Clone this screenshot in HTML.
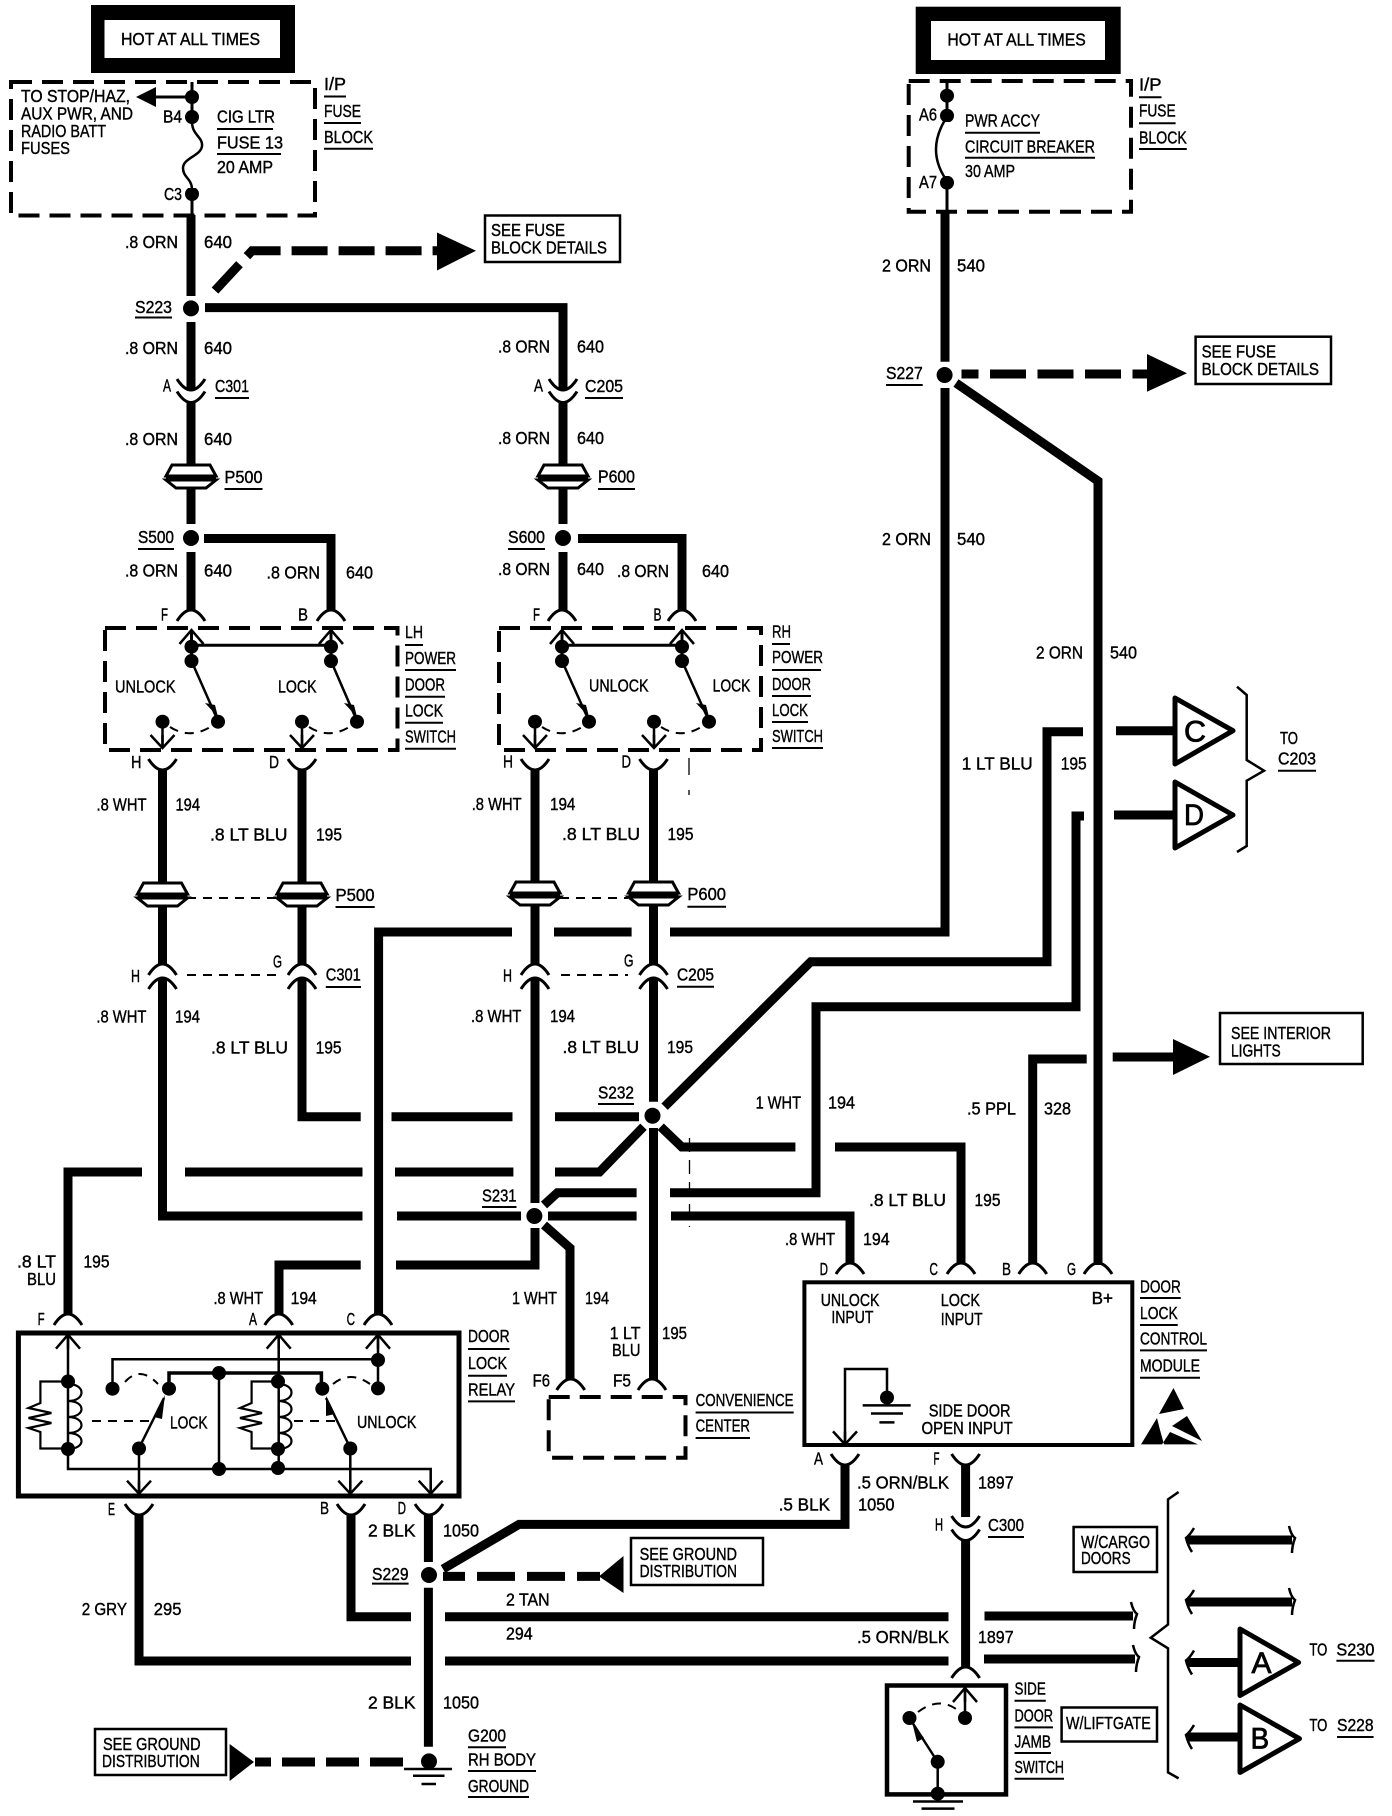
<!DOCTYPE html>
<html><head><meta charset="utf-8"><title>Door lock wiring diagram</title>
<style>
html,body{margin:0;padding:0;background:#fff}
svg{display:block}
text{font-family:"Liberation Sans",sans-serif;font-size:17.5px;fill:#000;stroke:#000;stroke-width:.4}
.w{fill:none;stroke:#000;stroke-width:9}
.t{fill:none;stroke:#000;stroke-width:3}
.u{fill:none;stroke:#000;stroke-width:2}
.d{fill:none;stroke:#000;stroke-width:9}
.db{fill:none;stroke:#000;stroke-width:4;stroke-dasharray:21 10}
.n{fill:none;stroke:#000;stroke-width:2;stroke-dasharray:9 7}
.big{font-size:30px;stroke-width:.8}
</style></head><body>
<svg xmlns="http://www.w3.org/2000/svg" width="1392" height="1816" viewBox="0 0 1392 1816">
<defs>
<path id="cup" d="M-14 0Q0 22 14 0" fill="none" stroke="#000" stroke-width="3"/>
<path id="cap" d="M-14 0Q0 -22 14 0" fill="none" stroke="#000" stroke-width="3"/>
<circle id="dot" r="7" fill="#000"/>
<circle id="sp" r="8" fill="#000"/>
<g id="pz" fill="#fff" stroke="#000" stroke-width="3"><path d="M-19 0H19L25 11H-25Z"/><path d="M-25 15H25L15 23H-15Z"/><path d="M-25 13H25" stroke-width="3"/></g>
<path id="up" d="M-12 14L0 0L12 14M0 0V14" fill="none" stroke="#000" stroke-width="2.5"/>
<path id="dn" d="M-12 -13L0 0L12 -13M0 0V-13" fill="none" stroke="#000" stroke-width="2.5"/>
<path id="hl" d="M3 -12Q-1 -5 -5 -2Q-3 6 1 12" fill="none" stroke="#000" stroke-width="2.5"/>
<path id="hr" d="M-2 -14Q0 -5 4 -2Q1 6 1 13" fill="none" stroke="#000" stroke-width="2.5"/>
</defs>

<!-- hot boxes -->
<rect x="91" y="5" width="204" height="68" fill="#000"/><rect x="104.5" y="20" width="175.5" height="38" fill="#fff"/>
<rect x="915.7" y="6.7" width="205" height="67.3" fill="#000"/><rect x="931" y="21" width="174" height="39" fill="#fff"/>

<!-- dashed boxes -->
<rect class="db" x="11" y="82" width="304" height="133.5"/>
<rect class="db" x="908.7" y="81" width="222.3" height="130.7"/>
<rect class="db" x="105" y="628" width="292.5" height="122"/>
<rect class="db" x="499" y="628" width="262" height="122"/>
<rect class="db" x="548.7" y="1397" width="136.8" height="60.8"/>

<!-- main wires -->
<path class="w" d="M191 215V296M191 322V390M191 403V465M191 488V524M191 552V610M204 538.5H331V610M205 307.6H563V390M563 403V465M563 488V524M563 552V610M578 538.5H682V610
M162.5 769V883M162.5 906V965M162.5 978V1216H362.5M397 1216H521
M302 769V883M302 906V965M302 978V1116.7H360.7M391.5 1116.7H512.5M555 1116.7H639
M535 769V883M535 906V965M535 978V1203M535 1228V1265H396M360.7 1265H279V1315
M653.5 769V883M653.5 906V965M653.5 978V1101.7M653.5 1128V1380
M945 213V361.7M945 388V932H670M631.6 932H554M512 932H378.6V1314
M68 1314V1172H142M185 1172H362.5M395 1172H513.4M555 1172H599.5L643.5 1126.7
M664.6 1106.7L810.8 961.7H1047V731.7H1083
M660.7 1126.7L681.8 1147H795.4M835 1147H961V1264
M544 1205L557.4 1192.7H636.6M670 1192.7H816V1006.7H1076V816H1084
M548 1216H636.6M671 1216H850V1264
M544 1225L570 1248V1380
M956 383L1098 481V1265
M1032.7 1264V1059H1086.7
M1116 730.7H1175M1114 815H1175M1112.7 1057H1173
M845 1465V1524.4H519L443 1569
M965.6 1465V1517M965.6 1541V1667
M428.4 1515V1562M428.4 1587.7V1746.7
M351 1515V1616.8H411M445 1616.8H948.5M984.5 1616H1133
M139 1515V1661H411M445 1661H948.5M984 1659H1135
M1187 1540H1292M1187 1602H1292M1187 1662.5H1240M1187 1737H1240"/>

<!-- dashed thick connectors -->
<path class="d" stroke-dasharray="36 11" d="M215 290.6L252 250.7H437"/>
<path class="d" stroke-dasharray="36 11.5" stroke-dashoffset="19" d="M961.5 374H1147"/>
<path class="d" stroke-dasharray="38 12" stroke-dashoffset="16" d="M443 1576.4H600"/>
<path class="d" stroke-dasharray="33 11" stroke-dashoffset="17" d="M255 1762H403"/>
<path d="M437 232.5L476 250.7L437 270.5ZM1147 354L1187 373.3L1147 391.7ZM623.5 1556V1593L599 1576.4ZM229.6 1744V1781L254 1762ZM1173 1039L1210 1056.7L1173 1075Z"/>

<!-- splice dots -->
<use href="#sp" x="191" y="308.4"/><use href="#sp" x="191" y="538"/><use href="#sp" x="563" y="538"/><use href="#sp" x="944.6" y="375"/><use href="#sp" x="652.5" y="1115.7"/><use href="#sp" x="534.4" y="1216"/><use href="#sp" x="429" y="1575"/><use href="#sp" x="429" y="1761.4"/>

<!-- connectors -->
<use href="#cup" x="191" y="379"/><use href="#cup" x="191" y="391.5"/><use href="#cup" x="563" y="379"/><use href="#cup" x="563" y="391.5"/>
<use href="#cap" x="191" y="621"/><use href="#cap" x="331" y="621"/><use href="#cap" x="562" y="621"/><use href="#cap" x="682" y="621"/>
<use href="#cup" x="162.5" y="759"/><use href="#cup" x="302" y="759"/><use href="#cup" x="535" y="759"/><use href="#cup" x="653.5" y="759"/>
<use href="#cap" x="162.5" y="975"/><use href="#cap" x="162.5" y="989"/><use href="#cap" x="302" y="975"/><use href="#cap" x="302" y="989"/><use href="#cap" x="535" y="975"/><use href="#cap" x="535" y="989"/><use href="#cap" x="653.5" y="975"/><use href="#cap" x="653.5" y="989"/>
<use href="#cap" x="68" y="1325"/><use href="#cap" x="278.7" y="1325"/><use href="#cap" x="378" y="1325"/>
<use href="#cap" x="570.7" y="1390"/><use href="#cap" x="652" y="1390"/>
<use href="#cap" x="850" y="1274"/><use href="#cap" x="961" y="1274"/><use href="#cap" x="1032.7" y="1274"/><use href="#cap" x="1098" y="1274"/>
<use href="#cup" x="139" y="1504"/><use href="#cup" x="351" y="1504"/><use href="#cup" x="429" y="1504"/>
<use href="#cup" x="845" y="1454"/><use href="#cup" x="965.6" y="1454"/><use href="#cup" x="965.6" y="1516"/><use href="#cup" x="965.6" y="1529.5"/><use href="#cap" x="965.6" y="1678"/>
<use href="#pz" x="191" y="465"/><use href="#pz" x="563" y="465"/><use href="#pz" x="162.5" y="883"/><use href="#pz" x="302" y="883"/><use href="#pz" x="535" y="882"/><use href="#pz" x="653.5" y="882"/>
<path class="n" d="M187 898H277M560 898H628M187 975H281M561 975H628"/>
<path fill="none" stroke="#000" stroke-width="1.3" d="M689 758V775M689 790V795"/><path fill="none" stroke="#000" stroke-width="1.3" stroke-dasharray="14 8" d="M689.5 1138V1227"/>

<!-- fuse block left -->
<path class="t" d="M192 82V215M192 97H150"/>
<path d="M136 97L156 87V107Z"/>
<use href="#dot" x="192" y="97"/><use href="#dot" x="192" y="117"/><use href="#dot" x="192" y="194"/>
<path fill="#fff" d="M186 124h12v64h-12z"/>
<path fill="none" stroke="#000" stroke-width="2.5" d="M192 122C192 135 203 137 202 146C201 156 183 158 183 168C183 178 192 178 192 190"/>
<!-- fuse block right -->
<path class="t" d="M947 81V212"/>
<use href="#dot" x="947" y="95.7"/><use href="#dot" x="947" y="115.7"/><use href="#dot" x="947" y="182.7"/>
<path fill="#fff" d="M941 122h12v54h-12z"/>
<path fill="none" stroke="#000" stroke-width="2.5" d="M945 120Q927 150 945 178"/>

<!-- switches -->
<g id="sw1">
<path class="t" d="M191.5 632V661M331 632V661M191.5 645.3H331"/>
<use href="#up" x="191.5" y="630"/><use href="#up" x="331" y="630"/>
<use href="#dot" x="191.5" y="646.7"/><use href="#dot" x="191.5" y="661"/><use href="#dot" x="331" y="646.7"/><use href="#dot" x="331" y="661"/>
<path fill="none" stroke="#000" stroke-width="2.5" d="M191.5 661L218 721M331 661L357 721M162.5 722V748M302 722V748"/>
<path d="M205 703L215 705L218 717ZM344 703L354 705L357 717Z"/>
<use href="#dot" x="218" y="721.7"/><use href="#dot" x="357" y="721.7"/><use href="#dot" x="162.5" y="721.7"/><use href="#dot" x="302" y="721.7"/>
<use href="#dn" x="162.5" y="748"/><use href="#dn" x="302" y="748"/>
<path class="n" d="M170 727Q190 740 212 726M309 727Q329 740 351 726"/>
</g>
<g>
<path class="t" d="M562 632V661M682 632V661M562 645.3H682"/>
<use href="#up" x="562" y="630"/><use href="#up" x="682" y="630"/>
<use href="#dot" x="562" y="646.7"/><use href="#dot" x="562" y="661"/><use href="#dot" x="682" y="646.7"/><use href="#dot" x="682" y="661"/>
<path fill="none" stroke="#000" stroke-width="2.5" d="M562 661L589 721M682 661L709 721M535 722V748M654 722V748"/>
<path d="M576 703L586 705L589 717ZM696 703L706 705L709 717Z"/>
<use href="#dot" x="589" y="721.7"/><use href="#dot" x="709" y="721.7"/><use href="#dot" x="535" y="721.7"/><use href="#dot" x="654" y="721.7"/>
<use href="#dn" x="535" y="748"/><use href="#dn" x="654" y="748"/>
<path class="n" d="M542 727Q562 740 584 726M661 727Q681 740 703 726"/>
</g>

<!-- relay -->
<rect x="18.4" y="1333" width="440.6" height="163" fill="none" stroke="#000" stroke-width="5"/>
<path fill="none" stroke="#000" stroke-width="2.5" d="M68 1336V1469H430.7V1492M278.7 1336V1469M378 1336V1388M112.5 1388V1359.3H378M219 1373V1469M139 1448V1492M350.3 1448V1492M139 1448L164 1398M350.3 1448L326 1398"/>
<path fill="none" stroke="#000" stroke-width="3.5" d="M169 1388V1373H321.4V1388"/>
<use href="#up" x="68" y="1334.7"/><use href="#up" x="278.7" y="1334.7"/><use href="#up" x="378" y="1334.7"/>
<use href="#dn" x="139" y="1493.7"/><use href="#dn" x="350.3" y="1493.7"/><use href="#dn" x="430.7" y="1493.7"/>
<use href="#dot" x="68" y="1381.5"/><use href="#dot" x="68" y="1449"/><use href="#dot" x="278" y="1381.5"/><use href="#dot" x="278" y="1449"/><use href="#dot" x="278" y="1468"/><use href="#dot" x="219" y="1373"/><use href="#dot" x="219" y="1469"/><use href="#dot" x="378" y="1360"/><use href="#dot" x="378" y="1388.4"/><use href="#dot" x="112.5" y="1388.7"/><use href="#dot" x="169" y="1388.7"/><use href="#dot" x="322.3" y="1388.7"/><use href="#dot" x="139" y="1448.5"/><use href="#dot" x="350.3" y="1448.5"/>
<path d="M165 1395L154 1417L162 1419ZM326 1396L326 1416L335 1414Z"/>
<path fill="none" stroke="#000" stroke-width="2.2" d="M68 1381.5H40.4V1403L28.5 1408L51.4 1413L28.5 1418L51.4 1423L28.5 1428L40.4 1432V1448.5H68M68 1384C86 1384 86 1401 68 1401C86 1401 86 1417 68 1417C86 1417 86 1433 68 1433C86 1433 86 1449 68 1449"/>
<path fill="none" stroke="#000" stroke-width="2.2" d="M278 1381.5H251.6V1403L240 1408L262 1413L240 1418L262 1423L240 1428L251.6 1432V1448.5H278M278 1384C296 1384 296 1401 278 1401C296 1401 296 1417 278 1417C296 1417 296 1433 278 1433C296 1433 296 1449 278 1449"/>
<path class="n" d="M92 1421H151.5M294 1421H337.5M125 1382Q140 1365 158 1384M333 1384Q350 1370 370 1384"/>

<!-- module -->
<rect x="804.4" y="1282.3" width="327.9" height="162.7" fill="none" stroke="#000" stroke-width="4"/>
<path fill="none" stroke="#000" stroke-width="2.5" d="M845 1444V1369H887V1398"/><use href="#dn" x="845" y="1444.4"/><use href="#dot" x="887" y="1397.6"/>
<path fill="none" stroke="#000" stroke-width="2.5" d="M862.7 1405.4H910.7M871 1413.5H903M879.4 1422.4H894.5"/>
<path d="M1173.5 1388L1184 1409L1159 1414ZM1157 1418L1141 1444.4H1164L1160 1430ZM1187 1416L1202 1441L1172 1426ZM1170 1432L1198 1444.4H1162Z"/>

<!-- jamb switch -->
<rect x="887" y="1685.5" width="119" height="108.9" fill="none" stroke="#000" stroke-width="4.5"/>
<use href="#up" x="965" y="1688"/>
<path fill="none" stroke="#000" stroke-width="2.5" d="M965 1690V1718M937.7 1762V1794M937.7 1762L912 1722"/>
<path d="M912 1722L924 1738L917 1742Z"/>
<use href="#dot" x="965" y="1718"/><use href="#dot" x="909.5" y="1718"/><use href="#dot" x="937.7" y="1761.8"/><use href="#dot" x="937.7" y="1793.7"/>
<path class="n" d="M918 1712Q940 1695 960 1712"/>
<path fill="none" stroke="#000" stroke-width="2.5" d="M913 1801.5H963M921.5 1808.6H954.5M404 1769H452M413 1775.7H444.5M421.5 1784H436"/>

<!-- triangles -->
<g fill="#fff" stroke="#000" stroke-width="5" stroke-linejoin="round">
<path d="M1175 698L1233 730.7L1175 764Z"/><path d="M1175 782L1233 815L1175 848Z"/><path d="M1240 1629L1298.6 1662.5L1240 1695.5Z"/><path d="M1240 1705L1299.5 1738.7L1240 1772.4Z"/>
</g>
<!-- braces and hooks -->
<path fill="none" stroke="#000" stroke-width="2.5" d="M1237 686.7L1246.7 695V760L1264 770.7L1246.7 780.7V846L1237 852"/>
<path fill="none" stroke="#000" stroke-width="2.5" d="M1178.6 1492L1168 1499.4V1624.5L1150.8 1637.7L1168 1648.3V1772.4L1178.6 1778.4"/>
<use href="#hl" x="1191" y="1540"/><use href="#hr" x="1291" y="1540"/><use href="#hl" x="1191" y="1602"/><use href="#hr" x="1291" y="1602"/><use href="#hl" x="1191" y="1662.5"/><use href="#hl" x="1191" y="1737"/><use href="#hr" x="1133" y="1616"/><use href="#hr" x="1135" y="1659"/>

<!-- label boxes -->
<g fill="none" stroke="#000" stroke-width="2.5">
<rect x="485" y="215.5" width="135" height="46.5"/><rect x="1195.6" y="336.7" width="135.4" height="47.3"/><rect x="1220" y="1013" width="142.7" height="51"/><rect x="631" y="1538" width="132" height="47"/><rect x="95" y="1729" width="131" height="46"/><rect x="1073.6" y="1527" width="83.4" height="45"/><rect x="1061.6" y="1707.5" width="95.4" height="34"/>
</g>

<!-- underlines -->
<path class="u" d="M217 129H273M217 154H281M324 96.5H346M324 123H361M324 148.7H373M135 317.5H172M215 398H249M585 398H623M224.5 489H262.5M598 489H635M138 549H174M508 549H545
M405 645H423M405 670H456M405 696.7H445M405 722.7H443M405 748.7H456M772 644H790M772 670H821M772 696H811M772 722H808M772 748H823
M335.5 907H374.7M687.4 906.7H726M325.8 987H361M677 986.7H714M598 1104H634M482 1207H516.5
M965 132.7H1040M965 157.7H1095M1139 97.3H1161.5M1139 123.3H1175.6M1139 149H1186.8M886 385H922.7M1278 770.7H1316
M468 1349H509.6M468 1375.7H507M468 1401.4H515M695.6 1412.5H793.7M695.6 1438H750M1140 1298H1180.8M1140 1325H1177.7M1140 1350.4H1207M1140 1377.7H1200
M988 1537H1024M372 1583.6H408.6M468 1747.3H506M468 1771H536M468 1797H529M1014.5 1700.8H1045.8M1014.5 1727.4H1053M1014.5 1753H1051M1014.5 1778.8H1064M1336.4 1660.7H1374.5M1337 1737H1373.6"/>

<!-- text -->
<text x="121" y="45" textLength="139" lengthAdjust="spacingAndGlyphs">HOT AT ALL TIMES</text>
<text x="947.4" y="45.7" textLength="138.4" lengthAdjust="spacingAndGlyphs">HOT AT ALL TIMES</text>
<text x="21" y="102" textLength="109" lengthAdjust="spacingAndGlyphs">TO STOP/HAZ,</text>
<text x="21" y="119.5" textLength="112" lengthAdjust="spacingAndGlyphs">AUX PWR, AND</text>
<text x="21" y="137" textLength="85" lengthAdjust="spacingAndGlyphs">RADIO BATT</text>
<text x="21" y="154" textLength="49" lengthAdjust="spacingAndGlyphs">FUSES</text>
<text x="163" y="122.5" textLength="19" lengthAdjust="spacingAndGlyphs">B4</text>
<text x="164" y="200" textLength="18" lengthAdjust="spacingAndGlyphs">C3</text>
<text x="217" y="122.5" textLength="58" lengthAdjust="spacingAndGlyphs">CIG LTR</text>
<text x="217" y="148.7" textLength="66" lengthAdjust="spacingAndGlyphs">FUSE 13</text>
<text x="217" y="173" textLength="56" lengthAdjust="spacingAndGlyphs">20 AMP</text>
<text x="324" y="90" textLength="22" lengthAdjust="spacingAndGlyphs">I/P</text>
<text x="324" y="117" textLength="37" lengthAdjust="spacingAndGlyphs">FUSE</text>
<text x="324" y="143" textLength="49" lengthAdjust="spacingAndGlyphs">BLOCK</text>
<text x="125" y="248" textLength="53" lengthAdjust="spacingAndGlyphs">.8 ORN</text><text x="204" y="248" textLength="28" lengthAdjust="spacingAndGlyphs">640</text>
<text x="491" y="236" textLength="74" lengthAdjust="spacingAndGlyphs">SEE FUSE</text>
<text x="491" y="253.5" textLength="116" lengthAdjust="spacingAndGlyphs">BLOCK DETAILS</text>
<text x="135" y="313" textLength="37" lengthAdjust="spacingAndGlyphs">S223</text>
<text x="125" y="354" textLength="53" lengthAdjust="spacingAndGlyphs">.8 ORN</text><text x="204" y="354" textLength="28" lengthAdjust="spacingAndGlyphs">640</text>
<text x="498" y="352.7" textLength="52" lengthAdjust="spacingAndGlyphs">.8 ORN</text><text x="577" y="352.7" textLength="27" lengthAdjust="spacingAndGlyphs">640</text>
<text x="163" y="391.5" textLength="8" lengthAdjust="spacingAndGlyphs">A</text><text x="215" y="392" textLength="34" lengthAdjust="spacingAndGlyphs">C301</text>
<text x="534" y="391.5" textLength="9" lengthAdjust="spacingAndGlyphs">A</text><text x="585" y="392" textLength="38" lengthAdjust="spacingAndGlyphs">C205</text>
<text x="125" y="445" textLength="53" lengthAdjust="spacingAndGlyphs">.8 ORN</text><text x="204" y="445" textLength="28" lengthAdjust="spacingAndGlyphs">640</text>
<text x="498" y="444" textLength="52" lengthAdjust="spacingAndGlyphs">.8 ORN</text><text x="577" y="444" textLength="27" lengthAdjust="spacingAndGlyphs">640</text>
<text x="224.5" y="483" textLength="38" lengthAdjust="spacingAndGlyphs">P500</text><text x="598" y="482.4" textLength="37" lengthAdjust="spacingAndGlyphs">P600</text>
<text x="138" y="543" textLength="36" lengthAdjust="spacingAndGlyphs">S500</text><text x="508" y="543" textLength="37" lengthAdjust="spacingAndGlyphs">S600</text>
<text x="125" y="576.5" textLength="53" lengthAdjust="spacingAndGlyphs">.8 ORN</text><text x="204" y="576.5" textLength="28" lengthAdjust="spacingAndGlyphs">640</text>
<text x="266.5" y="578.5" textLength="53.5" lengthAdjust="spacingAndGlyphs">.8 ORN</text><text x="346" y="578.5" textLength="27" lengthAdjust="spacingAndGlyphs">640</text>
<text x="498" y="575" textLength="52" lengthAdjust="spacingAndGlyphs">.8 ORN</text><text x="577" y="575" textLength="27" lengthAdjust="spacingAndGlyphs">640</text>
<text x="617" y="577" textLength="52" lengthAdjust="spacingAndGlyphs">.8 ORN</text><text x="702" y="577" textLength="27" lengthAdjust="spacingAndGlyphs">640</text>
<text x="161" y="620.7" textLength="7" lengthAdjust="spacingAndGlyphs">F</text><text x="298" y="620.7" textLength="10" lengthAdjust="spacingAndGlyphs">B</text>
<text x="533" y="620.7" textLength="7" lengthAdjust="spacingAndGlyphs">F</text><text x="653.5" y="620.7" textLength="8" lengthAdjust="spacingAndGlyphs">B</text>
<text x="115" y="692.7" textLength="60.5" lengthAdjust="spacingAndGlyphs">UNLOCK</text><text x="278" y="692.7" textLength="38.5" lengthAdjust="spacingAndGlyphs">LOCK</text>
<text x="589" y="691.7" textLength="59.6" lengthAdjust="spacingAndGlyphs">UNLOCK</text><text x="712.6" y="691.7" textLength="37.8" lengthAdjust="spacingAndGlyphs">LOCK</text>
<text x="405" y="638" textLength="18" lengthAdjust="spacingAndGlyphs">LH</text><text x="405" y="664" textLength="51" lengthAdjust="spacingAndGlyphs">POWER</text><text x="405" y="690.7" textLength="40" lengthAdjust="spacingAndGlyphs">DOOR</text><text x="405" y="716.7" textLength="38" lengthAdjust="spacingAndGlyphs">LOCK</text><text x="405" y="742.7" textLength="51" lengthAdjust="spacingAndGlyphs">SWITCH</text>
<text x="772" y="637.7" textLength="19" lengthAdjust="spacingAndGlyphs">RH</text><text x="772" y="663" textLength="51" lengthAdjust="spacingAndGlyphs">POWER</text><text x="772" y="690" textLength="39" lengthAdjust="spacingAndGlyphs">DOOR</text><text x="772" y="716" textLength="36" lengthAdjust="spacingAndGlyphs">LOCK</text><text x="772" y="742" textLength="51" lengthAdjust="spacingAndGlyphs">SWITCH</text>
<text x="131" y="768" textLength="10.5" lengthAdjust="spacingAndGlyphs">H</text><text x="269" y="768" textLength="10" lengthAdjust="spacingAndGlyphs">D</text><text x="503" y="767.7" textLength="10" lengthAdjust="spacingAndGlyphs">H</text><text x="621.5" y="767.7" textLength="9.5" lengthAdjust="spacingAndGlyphs">D</text>
<text x="96.5" y="810.7" textLength="50" lengthAdjust="spacingAndGlyphs">.8 WHT</text><text x="175.5" y="810.7" textLength="24.5" lengthAdjust="spacingAndGlyphs">194</text>
<text x="471.7" y="810" textLength="50" lengthAdjust="spacingAndGlyphs">.8 WHT</text><text x="550" y="810" textLength="25.4" lengthAdjust="spacingAndGlyphs">194</text>
<text x="210" y="840.7" textLength="77.5" lengthAdjust="spacingAndGlyphs">.8 LT BLU</text><text x="316" y="840.7" textLength="26" lengthAdjust="spacingAndGlyphs">195</text>
<text x="562" y="840" textLength="78" lengthAdjust="spacingAndGlyphs">.8 LT BLU</text><text x="667.5" y="840" textLength="26" lengthAdjust="spacingAndGlyphs">195</text>
<text x="335.5" y="901" textLength="39" lengthAdjust="spacingAndGlyphs">P500</text><text x="687.4" y="900" textLength="38.6" lengthAdjust="spacingAndGlyphs">P600</text>
<text x="131" y="982" textLength="9" lengthAdjust="spacingAndGlyphs">H</text><text x="273" y="967.7" textLength="9" lengthAdjust="spacingAndGlyphs">G</text><text x="325.8" y="980.7" textLength="35" lengthAdjust="spacingAndGlyphs">C301</text>
<text x="503" y="981.7" textLength="9" lengthAdjust="spacingAndGlyphs">H</text><text x="624" y="966.7" textLength="9.5" lengthAdjust="spacingAndGlyphs">G</text><text x="677" y="980.7" textLength="37" lengthAdjust="spacingAndGlyphs">C205</text>
<text x="96.4" y="1022.7" textLength="50" lengthAdjust="spacingAndGlyphs">.8 WHT</text><text x="175" y="1022.7" textLength="25" lengthAdjust="spacingAndGlyphs">194</text>
<text x="471" y="1022" textLength="50.4" lengthAdjust="spacingAndGlyphs">.8 WHT</text><text x="550" y="1022" textLength="25" lengthAdjust="spacingAndGlyphs">194</text>
<text x="211" y="1053.3" textLength="77" lengthAdjust="spacingAndGlyphs">.8 LT BLU</text><text x="315.6" y="1053.3" textLength="26" lengthAdjust="spacingAndGlyphs">195</text>
<text x="562.5" y="1053" textLength="76.5" lengthAdjust="spacingAndGlyphs">.8 LT BLU</text><text x="667" y="1053" textLength="26" lengthAdjust="spacingAndGlyphs">195</text>
<text x="598" y="1098.3" textLength="36" lengthAdjust="spacingAndGlyphs">S232</text><text x="482" y="1201.7" textLength="34.5" lengthAdjust="spacingAndGlyphs">S231</text>
<text x="755.6" y="1108.3" textLength="45.4" lengthAdjust="spacingAndGlyphs">1 WHT</text><text x="828" y="1108.3" textLength="27" lengthAdjust="spacingAndGlyphs">194</text>
<text x="869" y="1206" textLength="77" lengthAdjust="spacingAndGlyphs">.8 LT BLU</text><text x="974.5" y="1206" textLength="26" lengthAdjust="spacingAndGlyphs">195</text>
<text x="785" y="1245" textLength="50" lengthAdjust="spacingAndGlyphs">.8 WHT</text><text x="863" y="1245" textLength="26.6" lengthAdjust="spacingAndGlyphs">194</text>
<text x="967" y="1114.3" textLength="49" lengthAdjust="spacingAndGlyphs">.5 PPL</text><text x="1044" y="1114.3" textLength="27" lengthAdjust="spacingAndGlyphs">328</text>
<text x="819.6" y="1275" textLength="8.4" lengthAdjust="spacingAndGlyphs">D</text><text x="929.4" y="1275" textLength="8.6" lengthAdjust="spacingAndGlyphs">C</text><text x="1002" y="1275" textLength="9" lengthAdjust="spacingAndGlyphs">B</text><text x="1067" y="1275" textLength="9" lengthAdjust="spacingAndGlyphs">G</text>
<text x="17" y="1267.3" textLength="39" lengthAdjust="spacingAndGlyphs">.8 LT</text><text x="27" y="1285" textLength="29" lengthAdjust="spacingAndGlyphs">BLU</text><text x="83.5" y="1267.3" textLength="26" lengthAdjust="spacingAndGlyphs">195</text>
<text x="213.5" y="1304" textLength="49.5" lengthAdjust="spacingAndGlyphs">.8 WHT</text><text x="290.6" y="1304" textLength="26.2" lengthAdjust="spacingAndGlyphs">194</text>
<text x="512" y="1304" textLength="45" lengthAdjust="spacingAndGlyphs">1 WHT</text><text x="585" y="1304" textLength="24" lengthAdjust="spacingAndGlyphs">194</text>
<text x="609.7" y="1338.8" textLength="30.8" lengthAdjust="spacingAndGlyphs">1 LT</text><text x="612" y="1356" textLength="28.5" lengthAdjust="spacingAndGlyphs">BLU</text><text x="662" y="1338.8" textLength="25" lengthAdjust="spacingAndGlyphs">195</text>
<text x="37.6" y="1325" textLength="7" lengthAdjust="spacingAndGlyphs">F</text><text x="249" y="1325" textLength="8" lengthAdjust="spacingAndGlyphs">A</text><text x="346.6" y="1325" textLength="8.4" lengthAdjust="spacingAndGlyphs">C</text>
<text x="170" y="1428.7" textLength="37.5" lengthAdjust="spacingAndGlyphs">LOCK</text><text x="357" y="1428" textLength="59.4" lengthAdjust="spacingAndGlyphs">UNLOCK</text>
<text x="468" y="1342" textLength="41.6" lengthAdjust="spacingAndGlyphs">DOOR</text><text x="468" y="1369" textLength="39" lengthAdjust="spacingAndGlyphs">LOCK</text><text x="468" y="1395.6" textLength="47" lengthAdjust="spacingAndGlyphs">RELAY</text>
<text x="532.6" y="1386.7" textLength="17.4" lengthAdjust="spacingAndGlyphs">F6</text><text x="613" y="1386.7" textLength="18" lengthAdjust="spacingAndGlyphs">F5</text>
<text x="695.6" y="1406" textLength="98" lengthAdjust="spacingAndGlyphs">CONVENIENCE</text><text x="695.6" y="1431.6" textLength="54.4" lengthAdjust="spacingAndGlyphs">CENTER</text>
<text x="820.7" y="1306" textLength="58.7" lengthAdjust="spacingAndGlyphs">UNLOCK</text><text x="831.4" y="1323" textLength="42" lengthAdjust="spacingAndGlyphs">INPUT</text>
<text x="940.7" y="1306" textLength="39.3" lengthAdjust="spacingAndGlyphs">LOCK</text><text x="940.7" y="1325" textLength="42" lengthAdjust="spacingAndGlyphs">INPUT</text><text x="1091.6" y="1304" textLength="21.4" lengthAdjust="spacingAndGlyphs">B+</text>
<text x="1140" y="1292.6" textLength="40.8" lengthAdjust="spacingAndGlyphs">DOOR</text><text x="1140" y="1318.9" textLength="37.7" lengthAdjust="spacingAndGlyphs">LOCK</text><text x="1140" y="1344.4" textLength="67" lengthAdjust="spacingAndGlyphs">CONTROL</text><text x="1140" y="1371.7" textLength="60" lengthAdjust="spacingAndGlyphs">MODULE</text>
<text x="928.7" y="1416.7" textLength="81.9" lengthAdjust="spacingAndGlyphs">SIDE DOOR</text><text x="921.5" y="1433.8" textLength="91.3" lengthAdjust="spacingAndGlyphs">OPEN INPUT</text>
<text x="814" y="1464.6" textLength="9" lengthAdjust="spacingAndGlyphs">A</text><text x="933.5" y="1464.6" textLength="6" lengthAdjust="spacingAndGlyphs">F</text>
<text x="857" y="1488.7" textLength="92" lengthAdjust="spacingAndGlyphs">.5 ORN/BLK</text><text x="978" y="1488.7" textLength="35.6" lengthAdjust="spacingAndGlyphs">1897</text>
<text x="778.7" y="1510.7" textLength="51.3" lengthAdjust="spacingAndGlyphs">.5 BLK</text><text x="858" y="1510.7" textLength="36.5" lengthAdjust="spacingAndGlyphs">1050</text>
<text x="935" y="1530.6" textLength="8" lengthAdjust="spacingAndGlyphs">H</text><text x="988" y="1531" textLength="36" lengthAdjust="spacingAndGlyphs">C300</text>
<text x="108" y="1515" textLength="7" lengthAdjust="spacingAndGlyphs">E</text><text x="320" y="1514" textLength="9" lengthAdjust="spacingAndGlyphs">B</text><text x="397.6" y="1514" textLength="8.4" lengthAdjust="spacingAndGlyphs">D</text>
<text x="368" y="1536.4" textLength="47.5" lengthAdjust="spacingAndGlyphs">2 BLK</text><text x="443" y="1536.4" textLength="36" lengthAdjust="spacingAndGlyphs">1050</text>
<text x="372" y="1580" textLength="36.6" lengthAdjust="spacingAndGlyphs">S229</text>
<text x="639.6" y="1560" textLength="97.4" lengthAdjust="spacingAndGlyphs">SEE GROUND</text><text x="639.6" y="1577" textLength="97.4" lengthAdjust="spacingAndGlyphs">DISTRIBUTION</text>
<text x="81.7" y="1615" textLength="45.3" lengthAdjust="spacingAndGlyphs">2 GRY</text><text x="153.8" y="1615" textLength="27.6" lengthAdjust="spacingAndGlyphs">295</text>
<text x="506" y="1605.5" textLength="43.6" lengthAdjust="spacingAndGlyphs">2 TAN</text><text x="506" y="1639.7" textLength="26.6" lengthAdjust="spacingAndGlyphs">294</text>
<text x="857" y="1643" textLength="92" lengthAdjust="spacingAndGlyphs">.5 ORN/BLK</text><text x="978" y="1643" textLength="35.6" lengthAdjust="spacingAndGlyphs">1897</text>
<text x="368" y="1708.4" textLength="47.5" lengthAdjust="spacingAndGlyphs">2 BLK</text><text x="443" y="1708.4" textLength="36" lengthAdjust="spacingAndGlyphs">1050</text>
<text x="103" y="1750" textLength="97.6" lengthAdjust="spacingAndGlyphs">SEE GROUND</text><text x="102" y="1767" textLength="97.7" lengthAdjust="spacingAndGlyphs">DISTRIBUTION</text>
<text x="468" y="1741.5" textLength="38" lengthAdjust="spacingAndGlyphs">G200</text><text x="468" y="1765.5" textLength="68" lengthAdjust="spacingAndGlyphs">RH BODY</text><text x="468" y="1792" textLength="61" lengthAdjust="spacingAndGlyphs">GROUND</text>
<text x="1014.5" y="1694.4" textLength="31.3" lengthAdjust="spacingAndGlyphs">SIDE</text><text x="1014.5" y="1721.7" textLength="38.5" lengthAdjust="spacingAndGlyphs">DOOR</text><text x="1014.5" y="1747.6" textLength="36.5" lengthAdjust="spacingAndGlyphs">JAMB</text><text x="1014.5" y="1773" textLength="49.5" lengthAdjust="spacingAndGlyphs">SWITCH</text>
<text x="1066" y="1728.8" textLength="84.8" lengthAdjust="spacingAndGlyphs">W/LIFTGATE</text>
<text x="1081" y="1548" textLength="69" lengthAdjust="spacingAndGlyphs">W/CARGO</text><text x="1081" y="1564" textLength="49.6" lengthAdjust="spacingAndGlyphs">DOORS</text>
<text x="1309.4" y="1655.4" textLength="18" lengthAdjust="spacingAndGlyphs">TO</text><text x="1336.4" y="1655.4" textLength="38" lengthAdjust="spacingAndGlyphs">S230</text>
<text x="1309.4" y="1731" textLength="18" lengthAdjust="spacingAndGlyphs">TO</text><text x="1337" y="1731" textLength="36.6" lengthAdjust="spacingAndGlyphs">S228</text>
<text class="big" x="1251.5" y="1673" textLength="20" lengthAdjust="spacingAndGlyphs">A</text><text class="big" x="1250.6" y="1748.7" textLength="18.5" lengthAdjust="spacingAndGlyphs">B</text>
<text class="big" x="1184" y="741.7" textLength="22" lengthAdjust="spacingAndGlyphs">C</text><text class="big" x="1184" y="825" textLength="20" lengthAdjust="spacingAndGlyphs">D</text>
<text x="1280" y="744" textLength="18" lengthAdjust="spacingAndGlyphs">TO</text><text x="1278" y="764.3" textLength="38" lengthAdjust="spacingAndGlyphs">C203</text>
<text x="961.7" y="769.3" textLength="71" lengthAdjust="spacingAndGlyphs">1 LT BLU</text><text x="1060.7" y="769.3" textLength="26" lengthAdjust="spacingAndGlyphs">195</text>
<text x="1036" y="658.3" textLength="47" lengthAdjust="spacingAndGlyphs">2 ORN</text><text x="1110" y="658.3" textLength="27" lengthAdjust="spacingAndGlyphs">540</text>
<text x="1231" y="1039" textLength="100" lengthAdjust="spacingAndGlyphs">SEE INTERIOR</text><text x="1231" y="1056.7" textLength="49.7" lengthAdjust="spacingAndGlyphs">LIGHTS</text>
<text x="919" y="120.7" textLength="18" lengthAdjust="spacingAndGlyphs">A6</text><text x="919" y="188" textLength="18" lengthAdjust="spacingAndGlyphs">A7</text>
<text x="965" y="126.7" textLength="75" lengthAdjust="spacingAndGlyphs">PWR ACCY</text><text x="965" y="152.7" textLength="130" lengthAdjust="spacingAndGlyphs">CIRCUIT BREAKER</text><text x="965" y="177" textLength="50" lengthAdjust="spacingAndGlyphs">30 AMP</text>
<text x="1139" y="90.7" textLength="22.5" lengthAdjust="spacingAndGlyphs">I/P</text><text x="1139" y="116.7" textLength="36.6" lengthAdjust="spacingAndGlyphs">FUSE</text><text x="1139" y="143.3" textLength="47.8" lengthAdjust="spacingAndGlyphs">BLOCK</text>
<text x="882" y="271.7" textLength="49" lengthAdjust="spacingAndGlyphs">2 ORN</text><text x="957" y="271.7" textLength="28" lengthAdjust="spacingAndGlyphs">540</text>
<text x="882" y="545" textLength="49" lengthAdjust="spacingAndGlyphs">2 ORN</text><text x="957" y="545" textLength="28" lengthAdjust="spacingAndGlyphs">540</text>
<text x="886" y="379" textLength="36.7" lengthAdjust="spacingAndGlyphs">S227</text>
<text x="1201.6" y="357.3" textLength="74.4" lengthAdjust="spacingAndGlyphs">SEE FUSE</text><text x="1201.6" y="375" textLength="117.4" lengthAdjust="spacingAndGlyphs">BLOCK DETAILS</text>
</svg>
</body></html>
